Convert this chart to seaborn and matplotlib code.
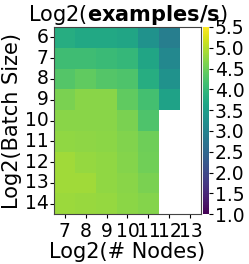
import numpy as np
import pandas as pd
import matplotlib
matplotlib.use("Agg")
import matplotlib.pyplot as plt
import seaborn as sns

batch_sizes = [6, 7, 8, 9, 10, 11, 12, 13, 14]
nodes = [7, 8, 9, 10, 11, 12, 13]
nan = np.nan
row6 = [3.80, 3.70, 3.70, 3.65, 3.30, 2.90, nan]
row7 = [4.10, 4.10, 4.05, 4.00, 3.65, 3.10, nan]
row8 = [4.30, 4.40, 4.30, 4.25, 3.80, 3.30, nan]
row9 = [4.60, 4.70, 4.70, 4.40, 4.15, 3.60, nan]
row10 = [4.70, 4.70, 4.70, 4.60, 4.25, nan, nan]
row11 = [4.75, 4.73, 4.72, 4.65, 4.50, nan, nan]
row12 = [4.85, 4.78, 4.75, 4.67, 4.52, nan, nan]
row13 = [4.85, 4.85, 4.76, 4.70, 4.60, nan, nan]
row14 = [4.83, 4.80, 4.78, 4.72, 4.66, nan, nan]

df = pd.DataFrame([row6, row7, row8, row9, row10, row11, row12, row13, row14],
                  index=batch_sizes, columns=nodes)

fig = plt.figure(figsize=(2.49, 2.64), dpi=100)
ax = fig.add_axes([0.217, 0.189, 0.590, 0.709])
cax = fig.add_axes([0.815, 0.189, 0.026, 0.709])
sns.heatmap(df, ax=ax, cbar_ax=cax, cmap="viridis", vmin=1.0, vmax=5.5,
            cbar_kws={"ticks": [1.0, 1.5, 2.0, 2.5, 3.0, 3.5, 4.0, 4.5, 5.0, 5.5]})
for s in ax.spines.values():
    s.set_visible(True)
    s.set_color("#444444")
    s.set_linewidth(0.8)
ax.set_title(r"Log2($\bf{examples/s}$)", fontsize=15, pad=2)
ax.set_xlabel("Log2(# Nodes)", fontsize=15, labelpad=1)
ax.set_ylabel("Log2(Batch Size)", fontsize=15, labelpad=2)
ax.tick_params(axis="x", labelsize=13.5, length=3, pad=2.5)
ax.tick_params(axis="y", labelsize=13.5, length=3, pad=1)
ax.set_yticklabels(batch_sizes, rotation=0)
ax.set_xticklabels(nodes, rotation=0)
cax.tick_params(labelsize=13.5, length=3, pad=1)
cax.yaxis.set_major_formatter(matplotlib.ticker.FormatStrFormatter("%.1f"))
fig.savefig("out.png", dpi=100)
